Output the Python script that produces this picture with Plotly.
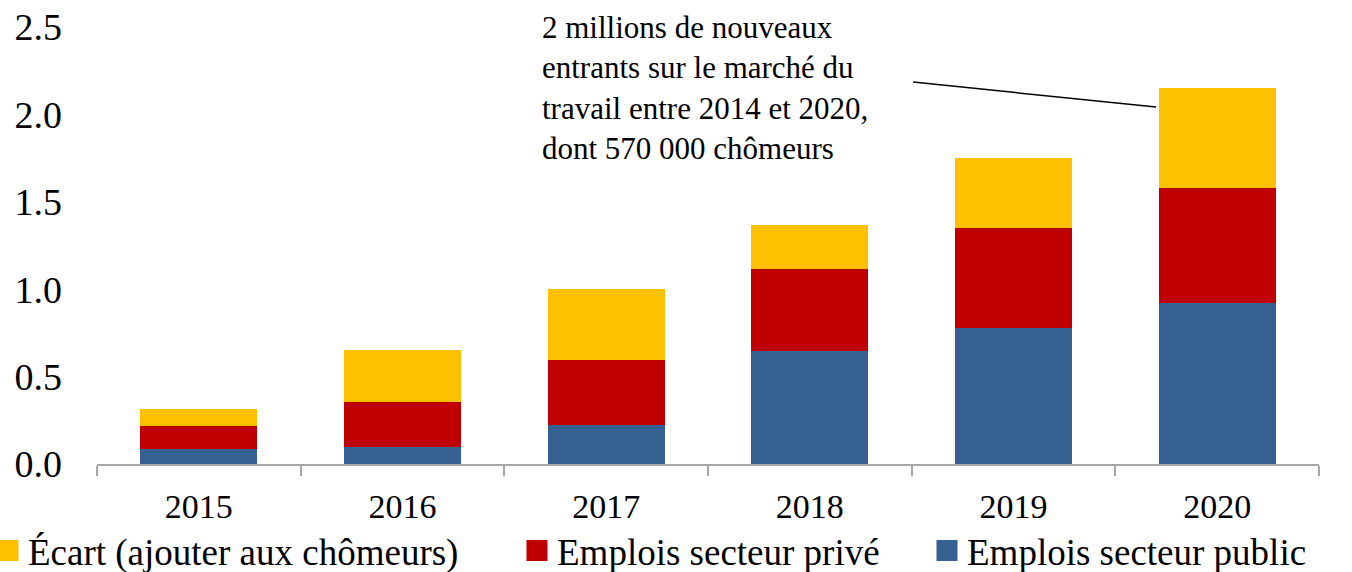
import plotly.graph_objects as go

years = ["2015", "2016", "2017", "2018", "2019", "2020"]
public = [0.086, 0.095, 0.223, 0.648, 0.780, 0.923]
private = [0.134, 0.259, 0.373, 0.468, 0.570, 0.657]
ecart = [0.096, 0.299, 0.406, 0.251, 0.400, 0.570]

names = ["Écart (ajouter aux chômeurs)", "Emplois secteur privé", "Emplois secteur public"]
colors = {"ecart": "#FFC000", "private": "#C00000", "public": "#376092"}

annotation_text = ("2 millions de nouveaux<br>entrants sur le marché du<br>"
                   "travail entre 2014 et 2020,<br>dont 570 000 chômeurs")

FONT = "Liberation Serif, Times New Roman, serif"

fig = go.Figure()
fig.add_trace(go.Bar(x=years, y=public, name=names[2], marker_color=colors["public"],
                     marker_line_width=0, showlegend=False))
fig.add_trace(go.Bar(x=years, y=private, name=names[1], marker_color=colors["private"],
                     marker_line_width=0, showlegend=False))
fig.add_trace(go.Bar(x=years, y=ecart, name=names[0], marker_color=colors["ecart"],
                     marker_line_width=0, showlegend=False))

# legend entries (larger square symbols)
leg_specs = [("legend", names[0], colors["ecart"]),
             ("legend2", names[1], colors["private"]),
             ("legend3", names[2], colors["public"])]
for lg, nm, col in leg_specs:
    fig.add_trace(go.Scatter(x=[None], y=[None], mode="markers", name=nm,
                             marker=dict(symbol="square", size=16, color=col,
                                         line=dict(color=col, width=5)),
                             legend=lg, showlegend=True))

W, H = 1352, 572
L, R, T, B = 97, 33, 27, 108
pw = W - L - R
ph = H - T - B

def px_x(p):
    return (p - L) / pw

def px_y(p):
    return (H - B - p) / ph

leg_common = dict(orientation="h", xanchor="left", yanchor="middle",
                  font=dict(family=FONT, size=37, color="#000000"),
                  bgcolor="rgba(0,0,0,0)", borderwidth=0, itemsizing="trace")

fig.update_layout(
    width=W, height=H,
    margin=dict(l=L, r=R, t=T, b=B, autoexpand=False),
    barmode="stack", bargap=0.425,
    plot_bgcolor="white", paper_bgcolor="white",
    font=dict(family=FONT, color="#000000"),
    legend=dict(x=px_x(8 - 20), y=px_y(551), **leg_common),
    legend2=dict(x=px_x(537 - 20), y=px_y(551), **leg_common),
    legend3=dict(x=px_x(947 - 20), y=px_y(551), **leg_common),
    xaxis=dict(type="category", showline=True, linecolor="#A6A6A6", linewidth=1.5,
               ticks="outside", ticklen=10, tickcolor="#A6A6A6", tickwidth=1.5,
               tickson="boundaries", showgrid=False, zeroline=False,
               tickfont=dict(family=FONT, size=34, color="#000000"),
               ticklabelstandoff=11),
    yaxis=dict(range=[0, 2.5], tickvals=[0, 0.5, 1.0, 1.5, 2.0, 2.5],
               tickformat=".1f", showline=False, showgrid=False, zeroline=False,
               ticks="", tickfont=dict(family=FONT, size=38, color="#000000"),
               ticklabelstandoff=34),
    annotations=[dict(text=annotation_text, xref="paper", yref="paper",
                      x=px_x(540), y=px_y(8), xanchor="left", yanchor="top",
                      align="left", showarrow=False,
                      font=dict(family=FONT, size=31, color="#000000"))],
    shapes=[dict(type="line", xref="x", yref="y",
                 x0=3.507, y0=2.185, x1=4.70, y1=2.042,
                 line=dict(color="#000000", width=1.5))],
)

fig.write_html("out.html", config={"displayModeBar": False},
               post_script="document.body.style.margin='0px';document.body.style.overflow='hidden';")
